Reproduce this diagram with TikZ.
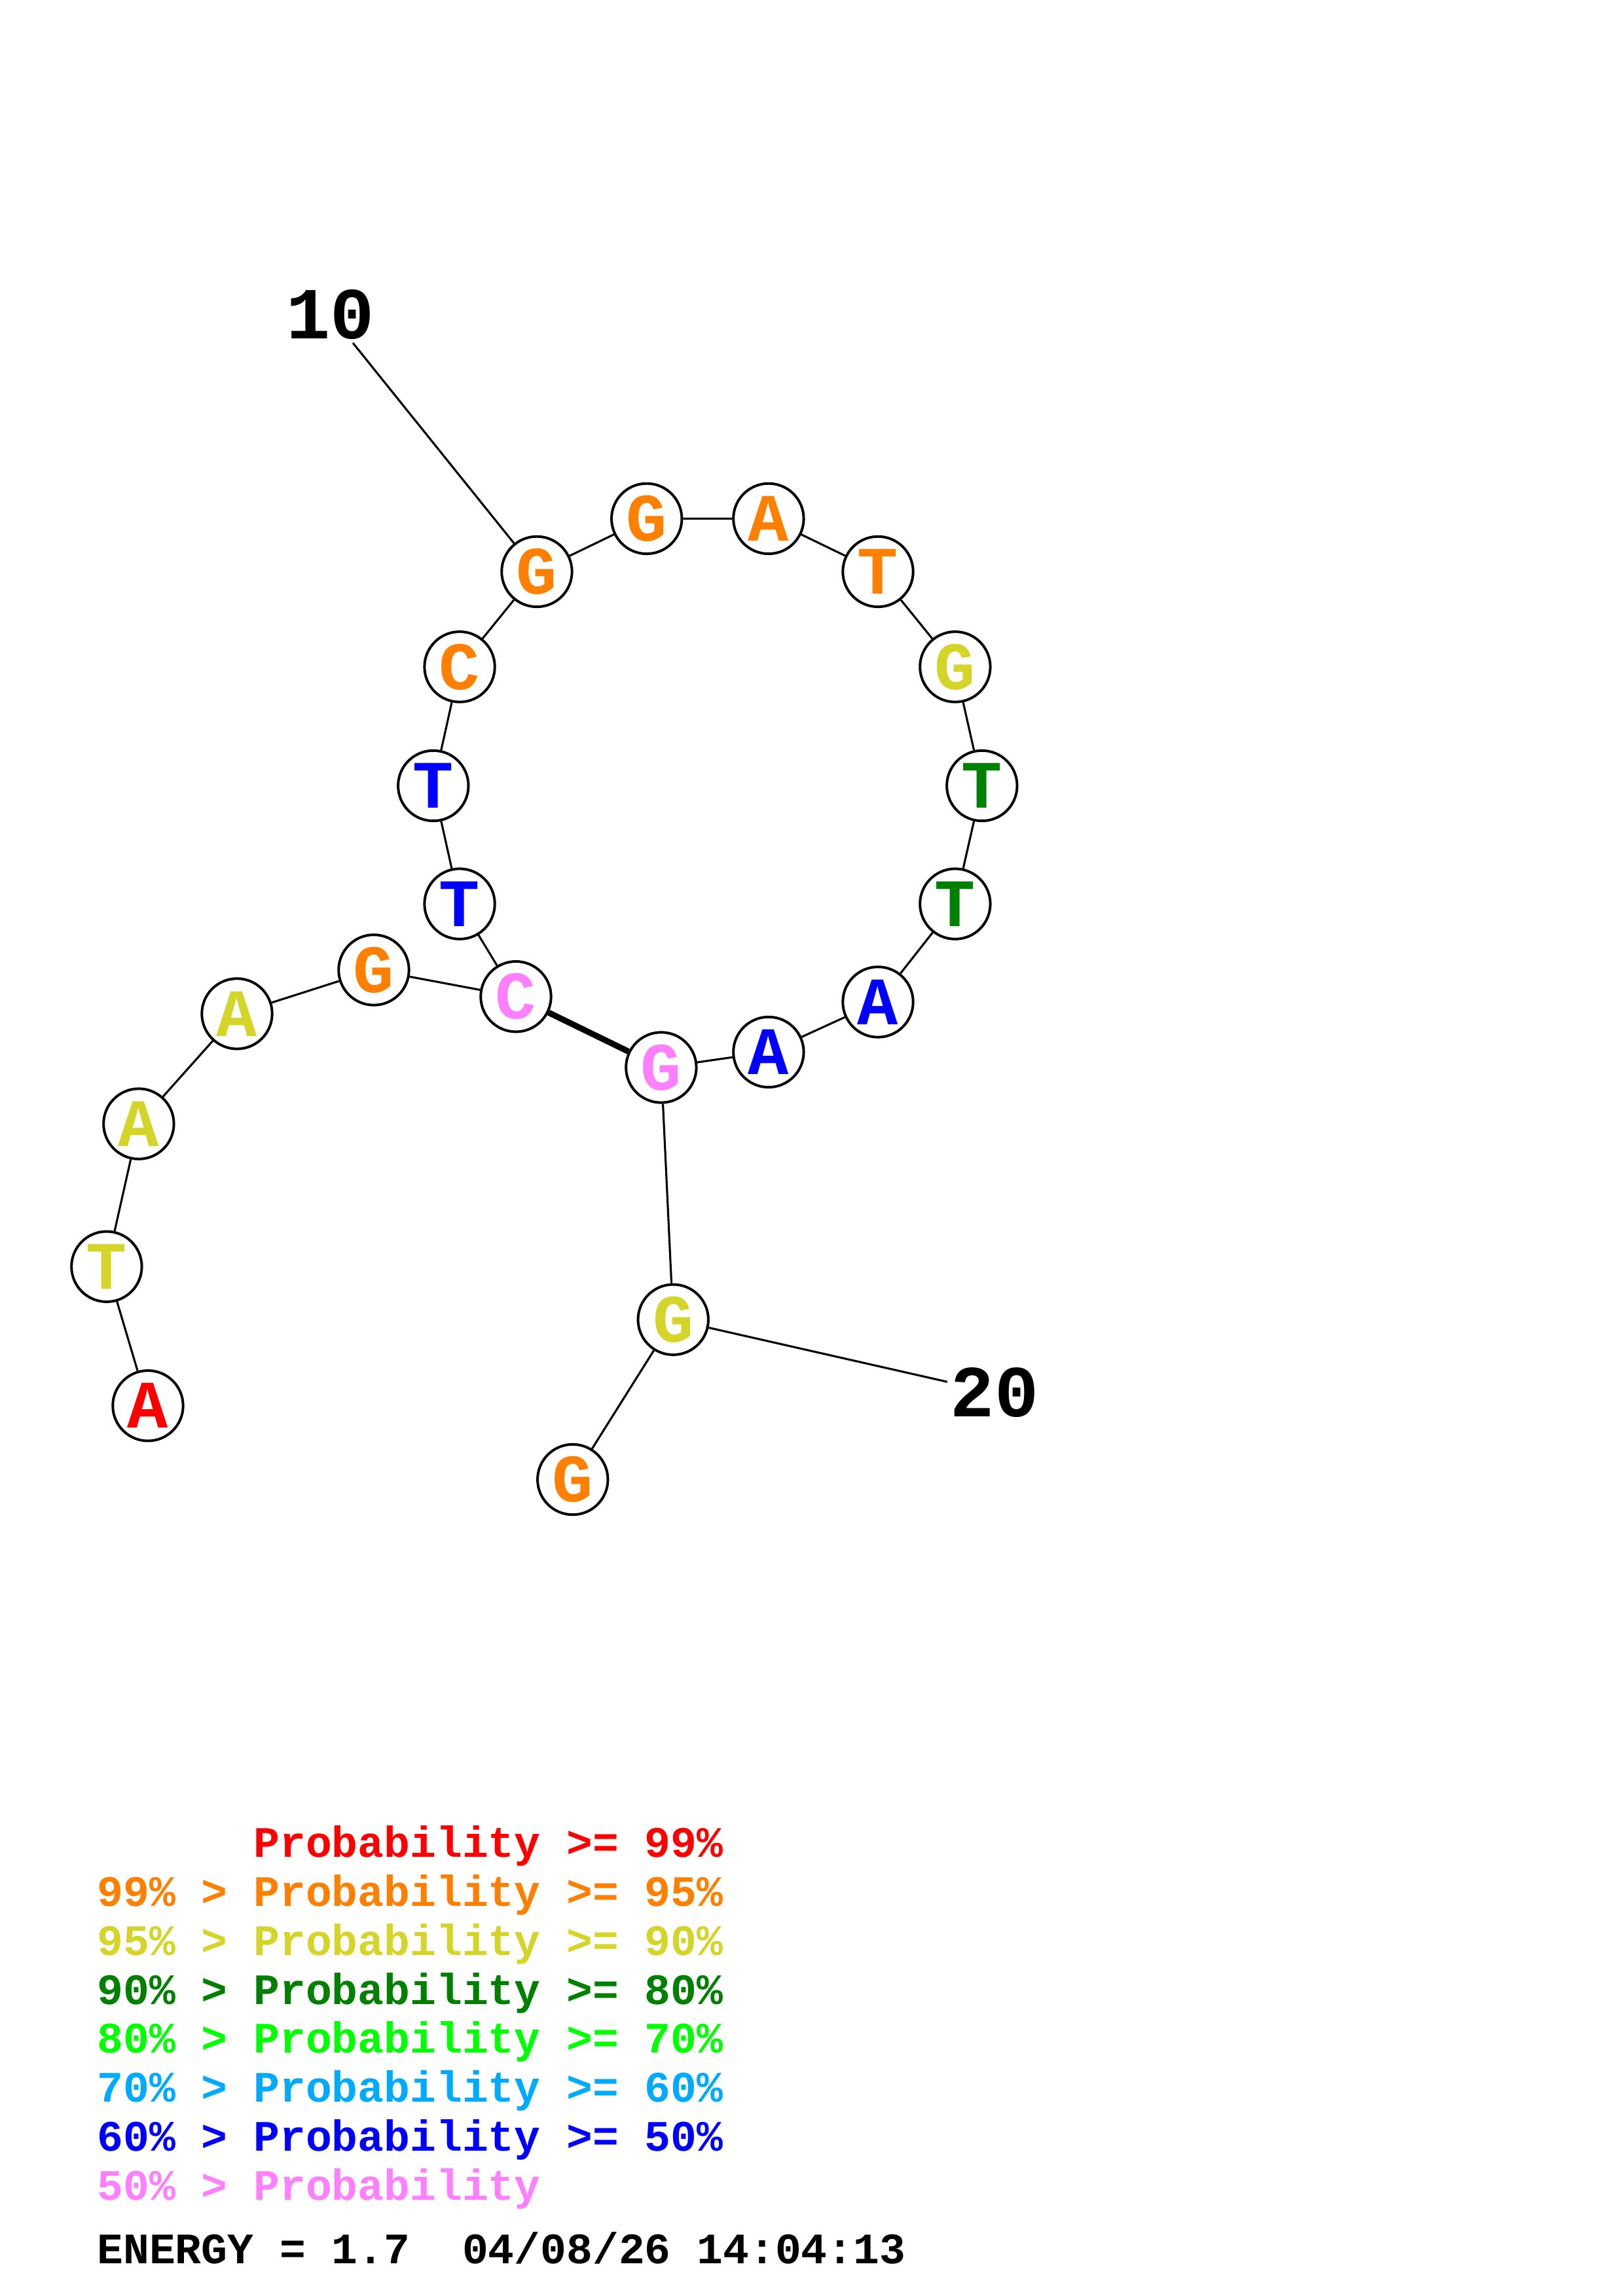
\documentclass[tikz,border=0pt]{standalone}
\usepackage{fontspec}
\setmonofont{Liberation Mono}
\usepackage{tikz}
\tikzset{base/.style = {circle, draw, fill = white, inner sep = 0, minimum size = 9.1mm,
                        line width = 0.95pt,
                        font = \ttfamily\bfseries\fontsize{25}{25}\selectfont}}
\tikzset{numlab/.style = {inner sep = 1pt, font = \ttfamily\bfseries\fontsize{27}{27}\selectfont}}
\tikzset{legend/.style = {anchor = base west, inner sep = 0,
                          font = \ttfamily\bfseries\fontsize{16}{16}\selectfont}}
\tikzset{bond/.style = {line width = 0.75pt}}
\tikzset{pair/.style = {line width = 2.2pt}}
\definecolor{mred}{rgb}{1, 0, 0}
\definecolor{morange}{rgb}{1, 0.5, 0}
\definecolor{myellow}{rgb}{0.83, 0.83, 0.16}
\definecolor{mgreen}{rgb}{0, 0.5, 0}
\definecolor{mlime}{rgb}{0, 1, 0}
\definecolor{mcyan}{rgb}{0, 0.67, 1}
\definecolor{mblue}{rgb}{0, 0, 1}
\definecolor{mpink}{rgb}{1, 0.5, 1}

\begin{document}
\begin{tikzpicture}[x = 0.18953mm, y = -0.18953mm]
      \useasboundingbox (0, 0) rectangle (1108, 1568);

      \node [base, text = mred] (n1) at (101, 960) {A};
      \node [base, text = myellow] (n2) at (72.8, 865) {T};
      \node [base, text = myellow] (n3) at (94.7, 767.5) {A};
      \node [base, text = myellow] (n4) at (161.8, 692.3) {A};
      \node [base, text = morange] (n5) at (255.2, 662.4) {G};
      \node [base, text = mpink] (n6) at (352.2, 680.6) {C};
      \node [base, text = mblue] (n7) at (313.8, 617.3) {T};
      \node [base, text = mblue] (n8) at (295.8, 536.6) {T};
      \node [base, text = morange] (n9) at (313.8, 455.4) {C};
      \node [base, text = morange] (n10) at (366.5, 390.4) {G};
      \node [base, text = morange] (n11) at (441.5, 354.2) {G};
      \node [base, text = morange] (n12) at (524.7, 354.2) {A};
      \node [base, text = morange] (n13) at (599.4, 390.4) {T};
      \node [base, text = myellow] (n14) at (652.1, 455.4) {G};
      \node [base, text = mgreen] (n15) at (670.4, 536.6) {T};
      \node [base, text = mgreen] (n16) at (652.1, 617.3) {T};
      \node [base, text = mblue] (n17) at (599.4, 684.3) {A};
      \node [base, text = mblue] (n18) at (524.7, 718.5) {A};
      \node [base, text = mpink] (n19) at (451.4, 729) {G};
      \node [base, text = myellow] (n20) at (459.6, 901.2) {G};
      \node [base, text = morange] (n21) at (391, 1010.4) {G};

      \node [numlab] (l10) at (225.5, 215) {10};
      \node [numlab] (l20) at (679, 951) {20};

      \draw [bond] (n1) -- (n2) -- (n3) -- (n4) -- (n5) -- (n6) -- (n7)
                   -- (n8) -- (n9) -- (n10) -- (n11) -- (n12) -- (n13) -- (n14)
                   -- (n15) -- (n16) -- (n17) -- (n18) -- (n19) -- (n20) -- (n21);
      \draw [pair] (n6) -- (n19);

      \draw [bond] (l10) -- (n10);
      \draw [bond] (n20) -- (l20);

      \node [legend, text = mred] (p1) at (66, 1268.5) {~~~~~~Probability >= 99\%};
      \node [legend, text = morange] (p2) at (66, 1301.9) {99\% > Probability >= 95\%};
      \node [legend, text = myellow] (p3) at (66, 1335.3) {95\% > Probability >= 90\%};
      \node [legend, text = mgreen] (p4) at (66, 1368.7) {90\% > Probability >= 80\%};
      \node [legend, text = mlime] (p5) at (66, 1402.1) {80\% > Probability >= 70\%};
      \node [legend, text = mcyan] (p6) at (66, 1435.5) {70\% > Probability >= 60\%};
      \node [legend, text = mblue] (p7) at (66, 1468.9) {60\% > Probability >= 50\%};
      \node [legend, text = mpink] (p8) at (66, 1502.3) {50\% > Probability};
      \node [legend] (energy) at (66, 1545.8) {ENERGY = 1.7~~04/08/26 14:04:13};
    \end{tikzpicture}
\end{document}
